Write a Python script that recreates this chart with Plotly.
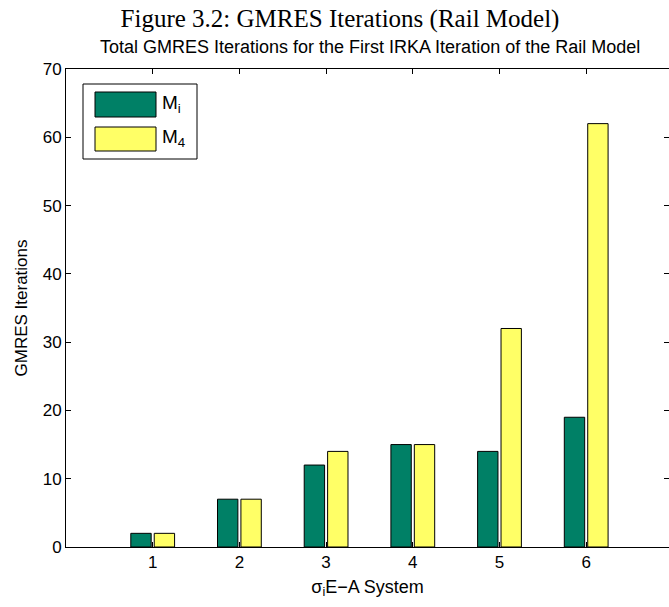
import plotly.graph_objects as go

categories = [1, 2, 3, 4, 5, 6]
m_i = [2, 7, 12, 15, 14, 19]
m_4 = [2, 7, 14, 15, 32, 62]
series_names = ["M<sub>i</sub>", "M<sub>4</sub>"]
y_ticks = [0, 10, 20, 30, 40, 50, 60, 70]

GREEN = "#008066"
YELLOW = "#FFFF66"
W, H = 669, 607
L, R, T, B = 66, 0, 69, 60
PW, PH = W - L - R, H - T - B

def px(x):
    return (x - L) / PW

def py(y):
    return (H - B - y) / PH

fig = go.Figure()
fig.add_trace(go.Bar(x=categories, y=m_i, name=series_names[0],
                     marker=dict(color=GREEN, line=dict(color="black", width=1))))
fig.add_trace(go.Bar(x=categories, y=m_4, name=series_names[1],
                     marker=dict(color=YELLOW, line=dict(color="black", width=1))))

font_sans = "Liberation Sans, Arial, sans-serif"

fig.update_layout(
    width=W, height=H,
    margin=dict(l=L, r=R, t=T, b=B),
    paper_bgcolor="white", plot_bgcolor="white",
    barmode="group", bargap=0.46, bargroupgap=0.13,
    showlegend=False,
    font=dict(family=font_sans, size=17, color="black"),
    title=dict(text="Figure 3.2: GMRES Iterations (Rail Model)",
               x=340 / W, xanchor="center", y=1 - 18 / H, yanchor="middle",
               font=dict(family="Liberation Serif, serif", size=25, color="black")),
)

fig.update_xaxes(range=[0, 6.955], tickvals=categories, ticktext=[str(c) for c in categories],
                 ticks="inside", ticklen=5, tickcolor="black",
                 showline=True, linecolor="black", linewidth=1, mirror="ticks",
                 showgrid=False, zeroline=False,
                 tickfont=dict(size=17),
                 title=dict(text="σ<sub>i</sub>E−A System", font=dict(size=18), standoff=8))
fig.update_yaxes(range=[0, 70], tickvals=y_ticks,
                 ticks="inside", ticklen=5, tickcolor="black",
                 showline=True, linecolor="black", linewidth=1, mirror="ticks",
                 showgrid=False, zeroline=False,
                 tickfont=dict(size=17),
                 title=dict(text="GMRES Iterations", font=dict(size=17), standoff=10))

# axes subtitle
fig.add_annotation(text="Total GMRES Iterations for the First IRKA Iteration of the Rail Model",
                   xref="paper", yref="paper", x=px(370), y=py(47),
                   xanchor="center", yanchor="middle", showarrow=False,
                   font=dict(size=18, family=font_sans))

# legend box
fig.add_shape(type="rect", xref="paper", yref="paper",
              x0=px(83), x1=px(197), y0=py(84), y1=py(159),
              line=dict(color="black", width=1), fillcolor="white")
for (y0, y1), col, name in [((92, 117), GREEN, series_names[0]),
                            ((127, 151), YELLOW, series_names[1])]:
    fig.add_shape(type="rect", xref="paper", yref="paper",
                  x0=px(95), x1=px(156), y0=py(y0), y1=py(y1),
                  line=dict(color="black", width=1), fillcolor=col)
    fig.add_annotation(text=name, xref="paper", yref="paper",
                       x=px(160), y=py((y0 + y1) / 2 - 1), xanchor="left", yanchor="middle",
                       showarrow=False, font=dict(size=19, family=font_sans))

fig.write_html("out.html")
